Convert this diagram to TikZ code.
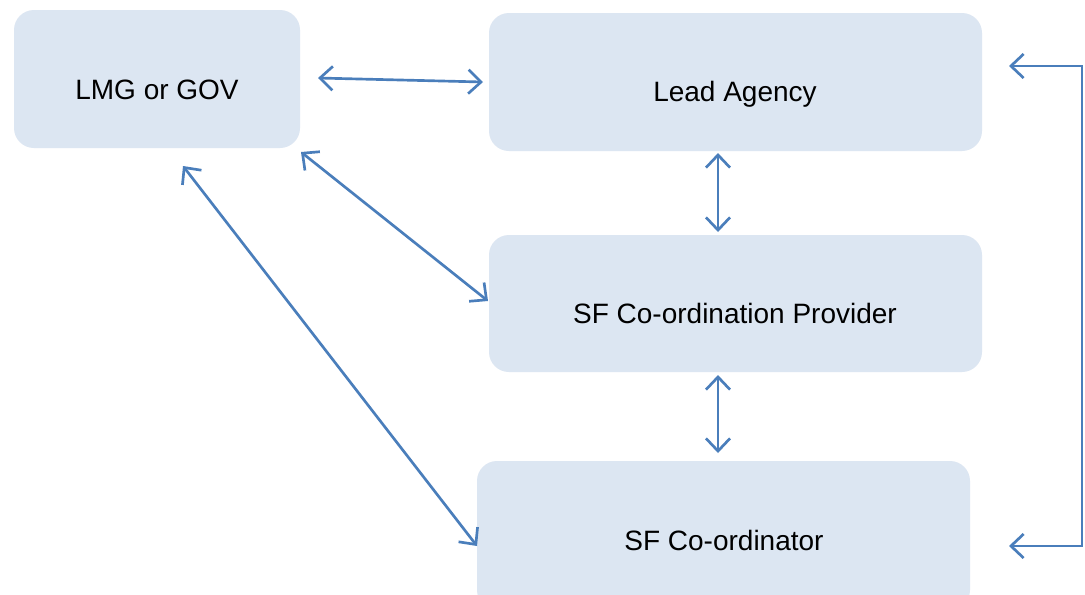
\documentclass[tikz,border=0pt]{standalone}
\usepackage{fontspec}
\setmainfont{Liberation Sans}
\usetikzlibrary{arrows.meta}
\definecolor{boxfill}{HTML}{DCE6F2}
\definecolor{arr}{HTML}{4A7EBB}
\begin{document}
\begin{tikzpicture}[x=0.75pt,y=-0.75pt,
  box/.style={fill=boxfill,draw=none,rounded corners=15pt},
  lbl/.style={anchor=base,inner sep=0pt,font=\fontsize{21}{25}\selectfont},
  tip/.style={Straight Barb[length=9.5pt,width=18pt,line width=2pt]},
  link/.style={draw=arr,line width=2pt,{Straight Barb[length=9.5pt,width=18pt,line width=2pt]}-{Straight Barb[length=9.5pt,width=18pt,line width=2pt]}}]
\useasboundingbox (0,0) rectangle (1085,594);
\fill[white] (0,0) rectangle (1085,594);
\path[box] (14,10) rectangle (300,148);
\path[box] (489,13) rectangle (982,151);
\path[box] (489,235) rectangle (982,372);
\path[box] (477,461) rectangle (970,610);
\node[lbl] (lmg) at (157,99) {LMG or GOV};
\node[lbl] (lead) at (735,101) {Lead Agency};
\node[lbl] (prov) at (735,323) {SF Co-ordination Provider};
\node[lbl] (coord) at (724,550) {SF Co-ordinator};
\coordinate (a1) at (318,78);
\coordinate (a2) at (483,82);
\coordinate (b1) at (718,153);
\coordinate (b2) at (718,232);
\coordinate (c1) at (718,375);
\coordinate (c2) at (718,453);
\coordinate (d1) at (301,152);
\coordinate (d2) at (488,301);
\coordinate (e1) at (183,166);
\coordinate (e2) at (477,546);
\coordinate (r1) at (1009,66);
\coordinate (r2) at (1009,546);
\coordinate (rc1) at (1082,66);
\coordinate (rc2) at (1082,546);
\draw[link] (a1) -- (a2);
\draw[link] (b1) -- (b2);
\draw[link] (c1) -- (c2);
\draw[link] (d1) -- (d2);
\draw[link] (e1) -- (e2);
\draw[link] (r1) -- (rc1) -- (rc2) -- (r2);
\end{tikzpicture}
\end{document}
